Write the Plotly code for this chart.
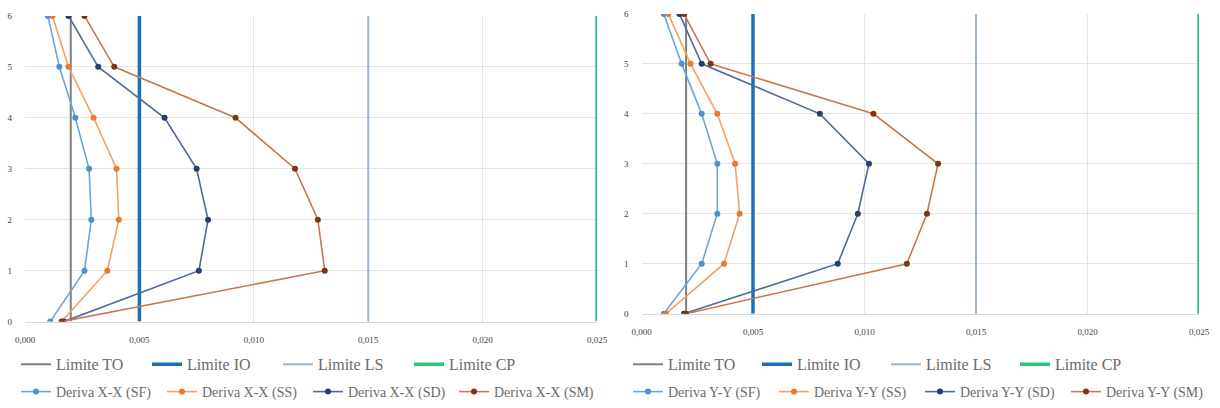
import plotly.graph_objects as go
from plotly.subplots import make_subplots

# Storey levels (0 = base, 6 = roof)
niveles = [0, 1, 2, 3, 4, 5, 6]

# Inter-storey drift, X-X direction
deriva_xx_sf = [0.0011, 0.0026, 0.0029, 0.0028, 0.0022, 0.0015, 0.0010]
deriva_xx_ss = [0.0016, 0.0036, 0.0041, 0.0040, 0.0030, 0.0019, 0.0012]
deriva_xx_sd = [0.0017, 0.0076, 0.0080, 0.0075, 0.0061, 0.0032, 0.0019]
deriva_xx_sm = [0.0016, 0.0131, 0.0128, 0.0118, 0.0092, 0.0039, 0.0026]

# Inter-storey drift, Y-Y direction
deriva_yy_sf = [0.0010, 0.0027, 0.0034, 0.0034, 0.0027, 0.0018, 0.0010]
deriva_yy_ss = [0.0011, 0.0037, 0.0044, 0.0042, 0.0034, 0.0022, 0.0012]
deriva_yy_sd = [0.0019, 0.0088, 0.0097, 0.0102, 0.0080, 0.0027, 0.0017]
deriva_yy_sm = [0.0020, 0.0119, 0.0128, 0.0133, 0.0104, 0.0031, 0.0019]

# Performance limits (drift ratio)
limite_nombres = ["Limite TO", "Limite IO", "Limite LS", "Limite CP"]
limite_valores = [0.002, 0.005, 0.015, 0.025]

x_ticks = [0.000, 0.005, 0.010, 0.015, 0.020, 0.025]

W, H = 1220, 408

limite_estilo = {
    "Limite TO": dict(color="#7F7F7F", width=2),
    "Limite IO": dict(color="#1F6FB5", width=3.5),
    "Limite LS": dict(color="#9AB4D6", width=2),
    "Limite CP": dict(color="#2EC27E", width=3.5),
}
serie_estilo = [
    ("SF", "#6AA6DA", "#4F8FCB"),
    ("SS", "#F2A06A", "#E9772F"),
    ("SD", "#4E6C99", "#23406E"),
    ("SM", "#C8784E", "#7E3514"),
]

fig = make_subplots(rows=1, cols=2)

paneles = [
    (1, "X-X", [deriva_xx_sf, deriva_xx_ss, deriva_xx_sd, deriva_xx_sm], "legend", "legend2"),
    (2, "Y-Y", [deriva_yy_sf, deriva_yy_ss, deriva_yy_sd, deriva_yy_sm], "legend3", "legend4"),
]

for col, eje, series, leg_lim, leg_der in paneles:
    for nombre, valor in zip(limite_nombres, limite_valores):
        fig.add_trace(
            go.Scatter(
                x=[valor, valor], y=[niveles[0], niveles[-1]],
                mode="lines", name=nombre, line=limite_estilo[nombre],
                legend=leg_lim,
            ),
            row=1, col=col,
        )
    for (tag, c_line, c_mark), valores in zip(serie_estilo, series):
        fig.add_trace(
            go.Scatter(
                x=valores, y=niveles, mode="lines+markers",
                name=f"Deriva {eje} ({tag})",
                line=dict(color=c_line, width=1.6),
                marker=dict(color=c_mark, size=6),
                legend=leg_der,
            ),
            row=1, col=col,
        )

axis_font = dict(family="Liberation Serif", size=9, color="#404040")

common_x = dict(
    range=[0, 0.025], tickvals=x_ticks, tickformat=".3f",
    showgrid=True, gridcolor="#E4E4E4", gridwidth=1,
    zeroline=False, showline=True, linecolor="#D9D9D9", linewidth=1,
    ticks="", tickfont=axis_font, ticklabelstandoff=10, automargin=False,
)
common_y = dict(
    range=[0, 6], dtick=1, showgrid=True, gridcolor="#E4E4E4", gridwidth=1,
    zeroline=False, showline=False, ticks="", tickfont=axis_font,
    ticklabelstandoff=12, automargin=False,
)

fig.update_xaxes(common_x)
fig.update_yaxes(common_y)
fig.update_layout(
    xaxis=dict(domain=[25 / W, 597 / W]),
    xaxis2=dict(domain=[641.5 / W, 1199 / W]),
    yaxis=dict(domain=[1 - 324 / H, 1 - 16 / H]),
    yaxis2=dict(domain=[1 - 316 / H, 1 - 14 / H]),
)

leg_common = dict(
    orientation="h", xanchor="left", yanchor="middle",
    entrywidthmode="pixels", bgcolor="rgba(0,0,0,0)",
    itemwidth=30, tracegroupgap=0,
)
font_lim = dict(family="Liberation Serif", size=16, color="#6B6B6B")
font_der = dict(family="Liberation Serif", size=14, color="#6B6B6B")
fig.update_layout(
    legend=dict(leg_common, font=font_lim, entrywidth=86, x=16 / W, y=1 - 367 / H),
    legend2=dict(leg_common, font=font_der, entrywidth=101, x=16 / W, y=1 - 395 / H),
    legend3=dict(leg_common, font=font_lim, entrywidth=84, x=628 / W, y=1 - 367 / H),
    legend4=dict(leg_common, font=font_der, entrywidth=101, x=628 / W, y=1 - 395 / H),
)

fig.update_layout(
    width=W, height=H, separators=",.",
    margin=dict(l=0, r=0, t=0, b=0),
    paper_bgcolor="white", plot_bgcolor="white",
    showlegend=True,
)

fig.write_html("out.html")
